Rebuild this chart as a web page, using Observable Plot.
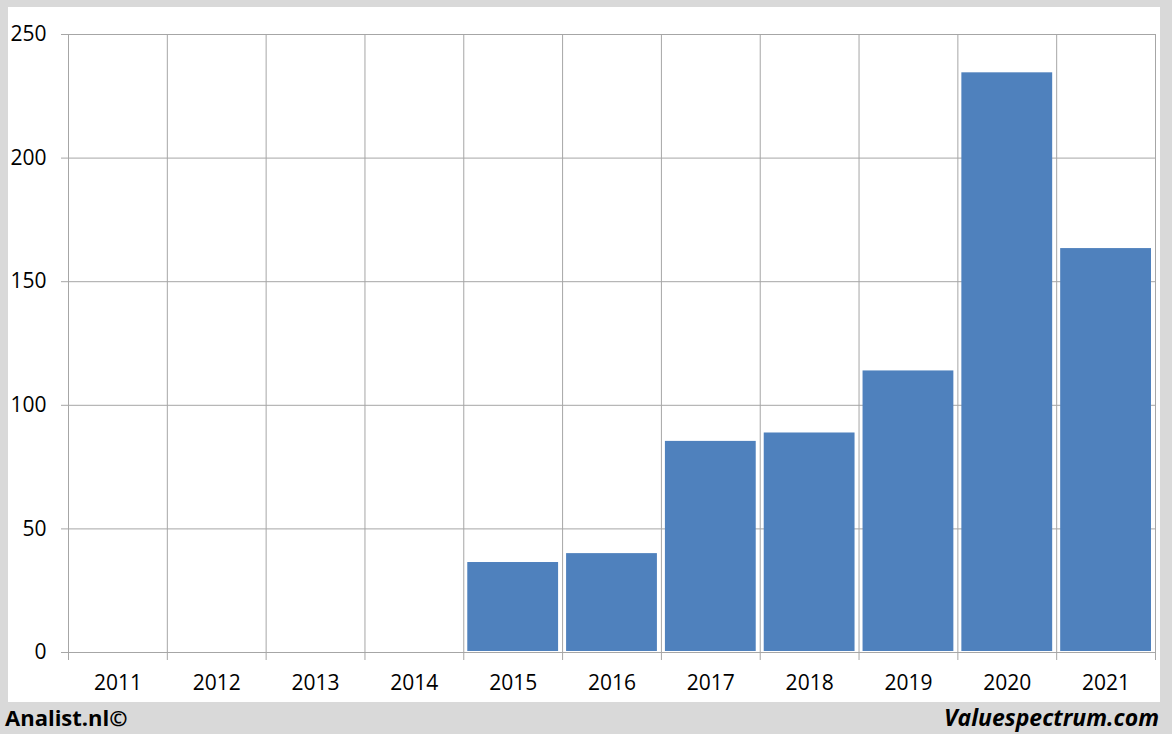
<!DOCTYPE html>
<html>
<head>
<meta charset="utf-8">
<script src="https://cdn.jsdelivr.net/npm/d3@7"></script>
<script src="https://cdn.jsdelivr.net/npm/@observablehq/plot@0.6"></script>
<style>
  html, body { margin: 0; padding: 0; }
  body { width: 1172px; height: 734px; background: #d9d9d9; position: relative; overflow: hidden; font-family: "Open Sans", sans-serif; }
  #panel { position: absolute; left: 8px; top: 7px; width: 1152px; height: 695px; background: #ffffff; }
  .foot { position: absolute; top: 702px; font-size: 23px; font-weight: bold; color: #000; line-height: 30px; }
  #left { left: 5px; font-size: 22px; }
  #right { right: 13px; font-style: italic; }
</style>
</head>
<body>
<div id="panel"></div>
<div class="foot" id="left">Analist.nl©</div>
<div class="foot" id="right">Valuespectrum.com</div>
<script>
const years = ["2011","2012","2013","2014","2015","2016","2017","2018","2019","2020","2021"];
const values = [null, null, null, null, 36.4, 40.0, 85.4, 88.8, 113.9, 234.5, 163.4];
const yTicks = [0, 50, 100, 150, 200, 250];

const data = years.map((y, i) => ({year: y, i, value: values[i]}));
const bars = data.filter(d => d.value != null);
const bounds = d3.range(years.length + 1);

const chart = Plot.plot({
  width: 1152,
  height: 695,
  marginLeft: 60,
  marginRight: 5,
  marginTop: 27,
  marginBottom: 50,
  style: {fontFamily: "'Open Sans', sans-serif", fontSize: "21px", color: "#000", background: "transparent"},
  x: {type: "linear", domain: [0, years.length], axis: null},
  y: {domain: [0, 250], axis: null},
  marks: [
    Plot.ruleY(yTicks, {stroke: "#a6a6a6", strokeWidth: 1, strokeOpacity: 1, insetLeft: -7}),
    Plot.ruleX(bounds, {y1: 0, y2: 250, stroke: "#a6a6a6", strokeWidth: 1, strokeOpacity: 1}),
    Plot.axisX({ticks: bounds, tickFormat: () => "", tickSize: 8, stroke: "#a6a6a6", strokeOpacity: 1, label: null}),
    Plot.rect(bars, {x1: d => d.i, x2: d => d.i + 1, y1: 0, y2: "value", fill: "#4f81bd", insetLeft: 4, insetRight: 4, insetBottom: 1}),
    Plot.axisY({ticks: yTicks, tickSize: 0, tickPadding: 22, fontSize: 21, fill: "#000", label: null}),
    Plot.axisX({ticks: years.map((_, i) => i + 0.5), tickFormat: t => years[Math.floor(t)], tickSize: 0, tickPadding: 23, fontSize: 21, fill: "#000", label: null})
  ]
});
document.getElementById("panel").appendChild(chart);
</script>
</body>
</html>
